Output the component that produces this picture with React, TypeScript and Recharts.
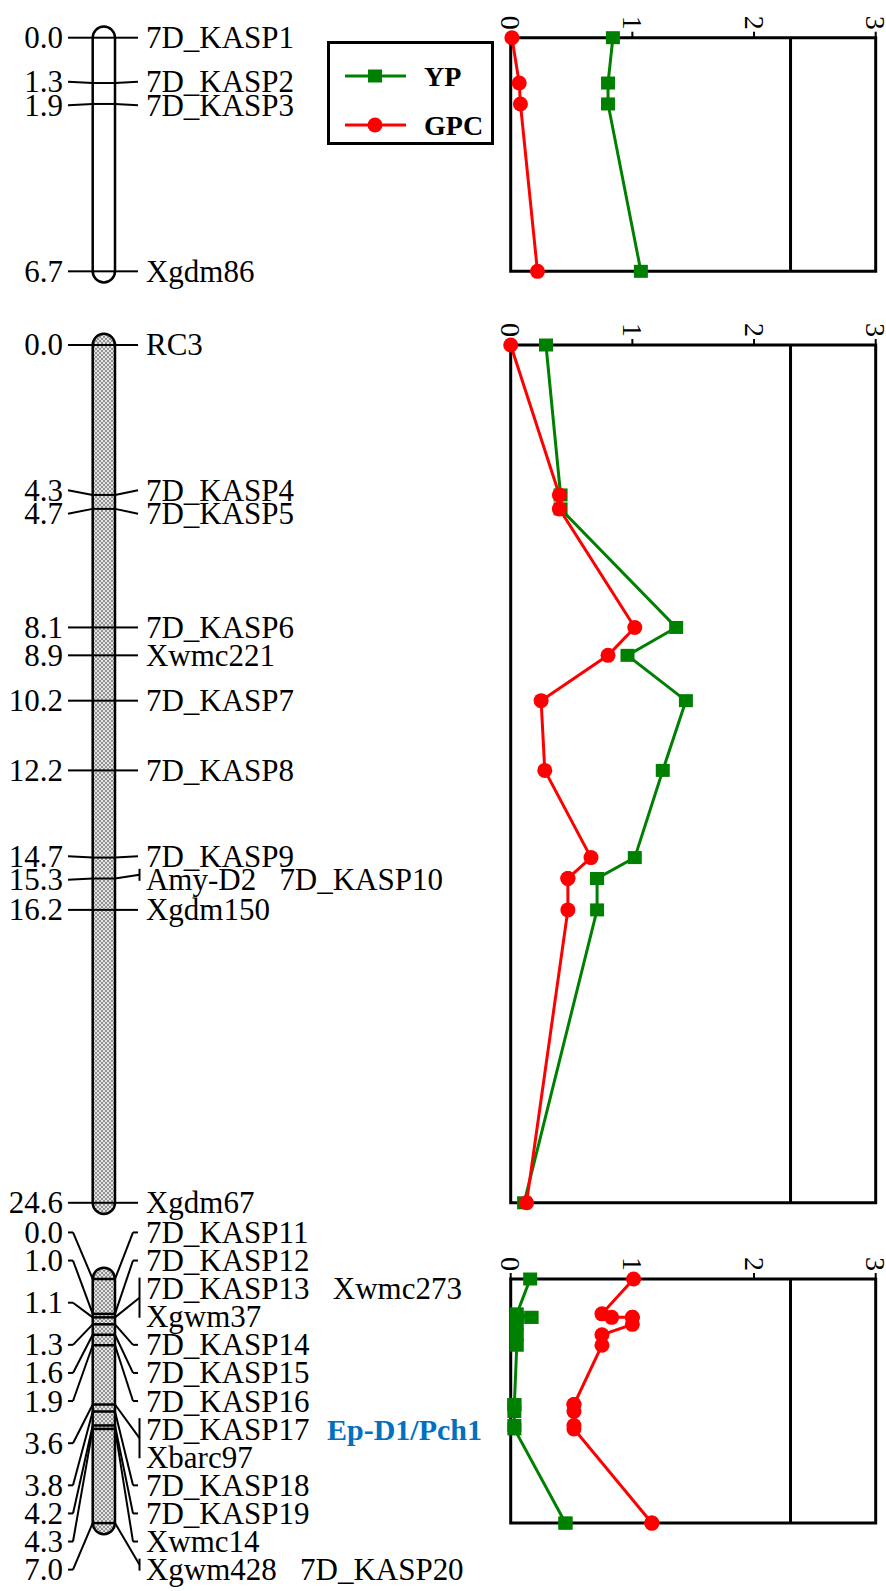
import React from "react";
import {
  ScatterChart,
  Scatter,
  XAxis,
  YAxis,
  ReferenceLine,
  ReferenceArea,
  ReferenceDot,
  Legend,
} from "recharts";

// linkage map of 7D: marker positions (cM) and the label rows of each position
const map1Pos = [0.0, 1.3, 1.9, 6.7];
const map1Rows = [[["7D_KASP1"]], [["7D_KASP2"]], [["7D_KASP3"]], [["Xgdm86"]]];

const map2Pos = [0.0, 4.3, 4.7, 8.1, 8.9, 10.2, 12.2, 14.7, 15.3, 16.2, 24.6];
const map2Rows = [
  [["RC3"]],
  [["7D_KASP4"]],
  [["7D_KASP5"]],
  [["7D_KASP6"]],
  [["Xwmc221"]],
  [["7D_KASP7"]],
  [["7D_KASP8"]],
  [["7D_KASP9"]],
  [["Amy-D2", "7D_KASP10"]],
  [["Xgdm150"]],
  [["Xgdm67"]],
];

const map3Pos = [0.0, 1.0, 1.1, 1.3, 1.6, 1.9, 3.6, 3.8, 4.2, 4.3, 7.0];
const map3Rows = [
  [["7D_KASP11"]],
  [["7D_KASP12"]],
  [["7D_KASP13", "Xwmc273"], ["Xgwm37"]],
  [["7D_KASP14"]],
  [["7D_KASP15"]],
  [["7D_KASP16"]],
  [["7D_KASP17"], ["Xbarc97"]],
  [["7D_KASP18"]],
  [["7D_KASP19"]],
  [["Xwmc14"]],
  [["Xgwm428", "7D_KASP20"]],
];

const geneName = "Ep-D1/Pch1";
const geneMarker = "7D_KASP17";

// LOD profiles, one value per marker
const lod1Pos = [0.0, 1.3, 1.9, 6.7];
const lod1YP = [0.84, 0.8, 0.8, 1.07];
const lod1GPC = [0.01, 0.07, 0.08, 0.22];

const lod2Pos = [0.0, 4.3, 4.7, 8.1, 8.9, 10.2, 12.2, 14.7, 15.3, 15.3, 16.2, 24.6];
const lod2YP = [0.29, 0.41, 0.41, 1.36, 0.96, 1.44, 1.25, 1.02, 0.71, 0.71, 0.71, 0.11];
const lod2GPC = [0.0, 0.4, 0.4, 1.02, 0.8, 0.25, 0.28, 0.66, 0.47, 0.47, 0.47, 0.13];

const lod3Pos = [0.0, 1.0, 1.1, 1.1, 1.1, 1.3, 1.6, 1.9, 3.6, 3.6, 3.8, 4.2, 4.3, 7.0, 7.0];
const lod3YP = [0.16, 0.05, 0.17, 0.17, 0.05, 0.05, 0.05, 0.05, 0.03, 0.03, 0.03, 0.03, 0.03, 0.45, 0.45];
const lod3GPC = [1.01, 0.75, 0.83, 1.0, 1.0, 1.0, 0.75, 0.75, 0.52, 0.52, 0.52, 0.52, 0.52, 1.16, 1.16];

const seriesOrder = ["YP", "GPC"];
const lodTicks = [0, 1, 2, 3];
const lodThreshold = 2.3;

const PX = 34.87; // pixels per cM
const FONT = '"Liberation Serif", "Times New Roman", serif';
const GREEN = "#008000";
const RED = "#ff0000";
const BLUE = "#0070c0";
const NBSP = "\u00a0\u00a0\u00a0";

const MAP_W = 490;
const CHR_L = 92.7;
const CHR_R = 115;
const NUM_X = 63;
const L_END = 68;
const R_END = 138;
const BR_X = 139.5;
const NAME_X = 146;
const GENE_X = 327;

const LOD_LEFT = 320;
const LOD_W = 590;
const LOD_ML = 190.7;
const LOD_MR = LOD_W - (875.7 - LOD_LEFT);

// push overlapping label rows apart, clusters centred on their markers
function spreadLabels(pos: number[], counts: number[], gap: number) {
  const want: number[] = [];
  const first: number[] = [];
  pos.forEach((p, g) => {
    first.push(want.length);
    for (let i = 0; i < counts[g]; i++) want.push(p);
  });
  const clusters = want.map((_, i) => [i, i]);
  const topOf = (c: number[]) =>
    (want[c[0]] + want[c[1]]) / 2 - ((c[1] - c[0]) * gap) / 2;
  let again = true;
  while (again) {
    again = false;
    for (let i = 0; i + 1 < clusters.length; i++) {
      const a = clusters[i];
      const b = clusters[i + 1];
      if (topOf(b) < topOf(a) + (a[1] - a[0] + 1) * gap - 1e-9) {
        clusters.splice(i, 2, [a[0], b[1]]);
        again = true;
        break;
      }
    }
  }
  const rowY: number[] = new Array(want.length).fill(0);
  clusters.forEach((c) => {
    const t = topOf(c);
    for (let i = c[0]; i <= c[1]; i++) rowY[i] = t + (i - c[0]) * gap;
  });
  return { rowY, first };
}

function SText({ x, y, text, anchor, bold, color }: any) {
  return (
    <text
      x={x}
      y={y}
      textAnchor={anchor}
      dominantBaseline="central"
      fontFamily={FONT}
      fontSize={bold ? 30 : 31}
      fontWeight={bold ? "bold" : "normal"}
      fill={color || "#000"}
    >
      {text}
    </text>
  );
}

const chromShape = (filled: boolean) => (p: any) => {
  const r = p.width / 2;
  return (
    <g>
      {filled && (
        <defs>
          <pattern id="xhatch" width="4" height="4" patternUnits="userSpaceOnUse">
            <rect width="4" height="4" fill="#e4e4e4" />
            <path d="M0,0 L4,4 M4,0 L0,4" stroke="#7c7c7c" strokeWidth="0.8" />
          </pattern>
        </defs>
      )}
      <rect
        x={p.x}
        y={p.y - r}
        width={p.width}
        height={p.height + 2 * r}
        rx={r}
        ry={r}
        fill={filled ? "url(#xhatch)" : "#fff"}
        stroke="#000"
        strokeWidth={2.5}
      />
    </g>
  );
};

function MapChart({ pos, rows, maxPos, padTop, padBottom, rowGap, banded, filled }: any) {
  const height = padTop + maxPos * PX + padBottom;
  const counts = rows.map((g: string[][]) => g.length);
  const { rowY, first } = spreadLabels(pos, counts, rowGap / PX);
  const cm = (px: number) => px / PX;
  const marks = pos.map((p: number) => ({ x: (CHR_L + CHR_R) / 2, y: p }));

  const els: React.ReactNode[] = [];
  let k = 0;
  const seg = (x1: number, y1: number, x2: number, y2: number) =>
    els.push(
      <ReferenceLine
        key={`s${k++}`}
        segment={[
          { x: x1, y: y1 },
          { x: x2, y: y2 },
        ]}
        stroke="#000"
        strokeWidth={2}
        ifOverflow="visible"
      />
    );
  const label = (x: number, y: number, text: string, anchor: string, bold = false, color = "#000") =>
    els.push(
      <ReferenceDot
        key={`t${k++}`}
        x={x}
        y={y}
        r={0}
        ifOverflow="visible"
        shape={(d: any) => (
          <SText x={d.cx} y={d.cy} text={text} anchor={anchor} bold={bold} color={color} />
        )}
      />
    );

  pos.forEach((p: number, g: number) => {
    const ys = rowY.slice(first[g], first[g] + counts[g]);
    const ly = (ys[0] + ys[ys.length - 1]) / 2;
    if (banded) {
      seg(L_END, ly, L_END + 5, ly);
      seg(L_END + 5, ly, CHR_L, p);
    } else {
      seg(L_END, ly, CHR_L, p);
    }
    const nNames = rows[g].reduce((s: number, r: string[]) => s + r.length, 0);
    if (nNames > 1) {
      const b1 = ys[0] - cm(11);
      const b2 = ys[ys.length - 1] + cm(1);
      seg(BR_X, b1, BR_X, b2);
      seg(CHR_R, p, BR_X, (b1 + b2) / 2);
    } else if (banded) {
      seg(CHR_R, p, R_END - 5, ly);
      seg(R_END - 5, ly, R_END, ly);
    } else {
      seg(CHR_R, p, R_END, ly);
    }
    label(NUM_X, ly, p.toFixed(1), "end");
    rows[g].forEach((names: string[], i: number) => {
      label(NAME_X, ys[i], names.join(NBSP), "start");
      if (names[0] === geneMarker) label(GENE_X, ys[i], geneName, "start", true, BLUE);
    });
  });

  return (
    <ScatterChart
      width={MAP_W}
      height={height}
      margin={{ top: padTop, right: 0, bottom: padBottom, left: 0 }}
    >
      <XAxis type="number" dataKey="x" domain={[0, MAP_W]} hide />
      <YAxis type="number" dataKey="y" domain={[0, maxPos]} reversed hide />
      <ReferenceArea
        x1={CHR_L}
        x2={CHR_R}
        y1={0}
        y2={maxPos}
        ifOverflow="visible"
        shape={chromShape(filled)}
      />
      <Scatter
        data={marks}
        isAnimationActive={false}
        shape={(d: any) => (
          <line
            x1={d.cx - (CHR_R - CHR_L) / 2}
            x2={d.cx + (CHR_R - CHR_L) / 2}
            y1={d.cy}
            y2={d.cy}
            stroke="#000"
            strokeWidth={banded ? 2.5 : 2}
          />
        )}
      />
      {els}
    </ScatterChart>
  );
}

const LodTick = (props: any) => {
  const { x, y, payload } = props;
  return (
    <text
      transform={`translate(${x},${y}) rotate(90)`}
      textAnchor="end"
      dominantBaseline="central"
      fontFamily={FONT}
      fontSize={28}
      fill="#000"
    >
      {payload.value}
    </text>
  );
};

const square = (d: any) => (
  <rect x={d.cx - 7} y={d.cy - 6.5} width={14} height={13} fill={GREEN} />
);
const dot = (d: any) => <circle cx={d.cx} cy={d.cy} r={7.5} fill={RED} />;

const LegendBox = (props: any) => {
  const items = [...(props.payload || [])].sort(
    (a: any, b: any) => seriesOrder.indexOf(a.value) - seriesOrder.indexOf(b.value)
  );
  return (
    <div
      style={{
        width: 167,
        height: 104,
        border: "3px solid #000",
        boxSizing: "border-box",
        background: "#fff",
      }}
    >
      <svg width={161} height={98} style={{ display: "block" }}>
        {items.map((e: any, i: number) => {
          const cy = 32 + i * 49;
          return (
            <g key={e.value}>
              <line x1={15} x2={76} y1={cy} y2={cy} stroke={e.color} strokeWidth={3} />
              {e.value === "YP" ? (
                <rect x={38} y={cy - 6.5} width={14} height={13} fill={e.color} />
              ) : (
                <circle cx={45} cy={cy} r={7.5} fill={e.color} />
              )}
              <text
                x={94}
                y={cy}
                dominantBaseline="central"
                fontFamily={FONT}
                fontWeight="bold"
                fontSize={28}
                fill="#000"
              >
                {e.value}
              </text>
            </g>
          );
        })}
      </svg>
    </div>
  );
};

function LodChart({ pos, yp, gpc, maxPos, padTop, padBottom, legend, y0 }: any) {
  const height = padTop + maxPos * PX + padBottom;
  const ypData = pos.map((p: number, i: number) => ({ pos: p, lod: yp[i] }));
  const gpcData = pos.map((p: number, i: number) => ({ pos: p, lod: gpc[i] }));
  return (
    <ScatterChart
      width={LOD_W}
      height={height}
      margin={{ top: padTop - 30, right: LOD_MR, bottom: padBottom, left: LOD_ML }}
    >
      <XAxis
        type="number"
        dataKey="lod"
        orientation="top"
        domain={[0, 3]}
        ticks={lodTicks}
        interval={0}
        height={30}
        axisLine={false}
        tickLine={{ stroke: "#000", strokeWidth: 2 }}
        tickSize={6}
        tick={<LodTick />}
      />
      <YAxis type="number" dataKey="pos" domain={[0, maxPos]} reversed hide />
      <ReferenceArea
        x1={0}
        x2={3}
        y1={0}
        y2={maxPos}
        fill="none"
        fillOpacity={0}
        stroke="#000"
        strokeWidth={3}
        ifOverflow="visible"
      />
      <ReferenceLine x={lodThreshold} stroke="#000" strokeWidth={3} />
      <Scatter
        name="YP"
        data={ypData}
        fill={GREEN}
        line={{ stroke: GREEN, strokeWidth: 3 }}
        shape={square}
        isAnimationActive={false}
      />
      <Scatter
        name="GPC"
        data={gpcData}
        fill={RED}
        line={{ stroke: RED, strokeWidth: 3 }}
        shape={dot}
        isAnimationActive={false}
      />
      {legend && (
        <Legend
          layout="vertical"
          align="center"
          verticalAlign="middle"
          content={LegendBox}
          wrapperStyle={{ left: 7, top: 41 - y0, width: 167, height: 104 }}
        />
      )}
    </ScatterChart>
  );
}

function Panel(props: any) {
  const { top0, padTop } = props;
  const y0 = top0 - padTop;
  return (
    <>
      <div style={{ position: "absolute", left: 0, top: y0 }}>
        <MapChart
          pos={props.mapPos}
          rows={props.mapRows}
          maxPos={props.maxPos}
          padTop={padTop}
          padBottom={props.padBottom}
          rowGap={props.rowGap}
          banded={props.banded}
          filled={props.filled}
        />
      </div>
      <div style={{ position: "absolute", left: LOD_LEFT, top: y0 }}>
        <LodChart
          pos={props.lodPos}
          yp={props.yp}
          gpc={props.gpc}
          maxPos={props.maxPos}
          padTop={padTop}
          padBottom={props.padBottom}
          legend={props.legend}
          y0={y0}
        />
      </div>
    </>
  );
}

export default function App() {
  return (
    <div
      style={{
        position: "absolute",
        left: 0,
        top: 0,
        width: 886,
        height: 1591,
        background: "#fff",
        overflow: "hidden",
      }}
    >
      <Panel
        top0={37.7}
        padTop={37.7}
        padBottom={22}
        maxPos={6.7}
        mapPos={map1Pos}
        mapRows={map1Rows}
        rowGap={23.5}
        banded={false}
        filled={false}
        lodPos={lod1Pos}
        yp={lod1YP}
        gpc={lod1GPC}
        legend
      />
      <Panel
        top0={345}
        padTop={32}
        padBottom={26}
        maxPos={24.6}
        mapPos={map2Pos}
        mapRows={map2Rows}
        rowGap={23.5}
        banded={false}
        filled
        lodPos={lod2Pos}
        yp={lod2YP}
        gpc={lod2GPC}
      />
      <Panel
        top0={1279}
        padTop={64}
        padBottom={68}
        maxPos={7.0}
        mapPos={map3Pos}
        mapRows={map3Rows}
        rowGap={28.1}
        banded
        filled
        lodPos={lod3Pos}
        yp={lod3YP}
        gpc={lod3GPC}
      />
    </div>
  );
}
